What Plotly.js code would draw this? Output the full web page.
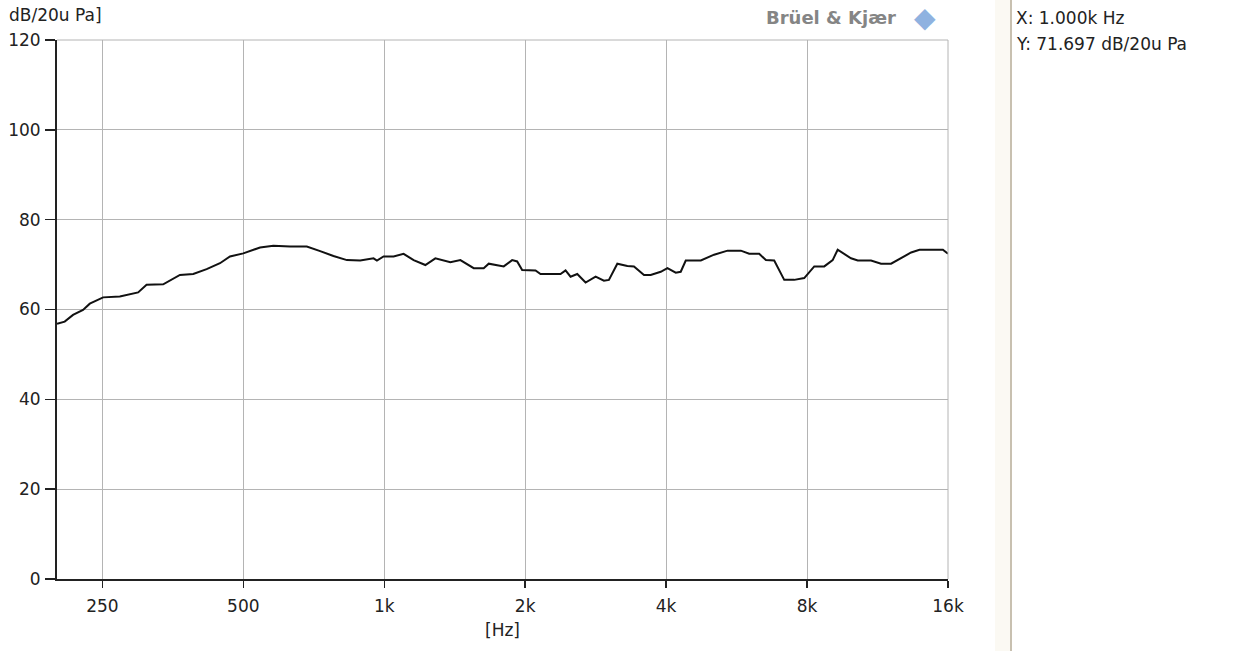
<!DOCTYPE html>
<html>
<head>
<meta charset="utf-8">
<script src="https://cdn.plot.ly/plotly-3.0.1.min.js"></script>
<style>
html,body{margin:0;padding:0;background:#fff;}
#chart{width:1255px;height:651px;}
</style>
</head>
<body>
<div id="chart"></div>
<script>
// Frequency (Hz) and level (dB re 20 µPa)
const freqHz = [200, 207.7, 216.4, 227.3, 235.0, 250.9, 272.4, 298.1, 310.7, 337.2, 366.1, 390.9, 417.5, 445.8, 468.3, 500,
  542.9, 579.6, 629.3, 683.3, 729.7, 779, 832.2, 888.4, 948.7, 964.7, 996.6, 1047, 1099.8, 1155.5, 1224, 1285.7,
  1384.2, 1454.1, 1552.7, 1631, 1671.7, 1799.8, 1876, 1922.7, 1970.6, 2104.3, 2156.7, 2379.7, 2439.1, 2499.9,
  2583.7, 2691.7, 2827.7, 2945.7, 3019, 3146.5, 3305.5, 3415, 3587.4, 3707.8, 3895, 4025.8, 4194, 4298, 4405.6,
  4744.4, 5064, 5410, 5776.8, 6017.8, 6321.6, 6533.6, 6806, 7149.8, 7510.6, 7889.8, 8288, 8706.4, 9073.8, 9300,
  9930.8, 10264, 10958, 11511.6, 12093, 12600, 13348, 13906, 15604, 16000];
const levelDb = [56.8, 57.3, 58.8, 59.9, 61.3, 62.7, 62.9, 63.8, 65.5, 65.6, 67.7, 67.9, 69.0, 70.3, 71.8, 72.5,
  73.8, 74.2, 74.0, 74.0, 73.0, 71.9, 71.0, 70.9, 71.4, 70.9, 71.8, 71.8, 72.4, 71.0, 69.9, 71.4,
  70.5, 71.0, 69.2, 69.2, 70.2, 69.6, 71.0, 70.7, 68.8, 68.7, 67.9, 67.9, 68.7, 67.3,
  67.9, 66.0, 67.3, 66.4, 66.6, 70.2, 69.7, 69.6, 67.7, 67.7, 68.4, 69.2, 68.2, 68.4, 70.9,
  70.9, 72.2, 73.1, 73.1, 72.4, 72.4, 71.0, 70.9, 66.6, 66.6, 67.0, 69.6, 69.6, 71.0, 73.3,
  71.4, 70.9, 70.9, 70.2, 70.2, 71.2, 72.7, 73.3, 73.3, 72.4];

const xTickVals = [250, 500, 1000, 2000, 4000, 8000, 16000];
const xTickText = ['250', '500', '1k', '2k', '4k', '8k', '16k'];
const yTickVals = [0, 20, 40, 60, 80, 100, 120];

const FONT = 'DejaVu Sans, Verdana, sans-serif';
const FS = 17;

const trace = {
  x: freqHz, y: levelDb, type: 'scatter', mode: 'lines',
  line: {color: '#111111', width: 2},
  hoverinfo: 'skip', showlegend: false
};

const layout = {
  width: 1255, height: 651,
  margin: {l: 57, r: 307, t: 40, b: 72, pad: 0},
  paper_bgcolor: '#ffffff', plot_bgcolor: '#ffffff',
  font: {family: FONT, size: FS, color: '#222222'},
  xaxis: {
    type: 'log',
    range: [Math.log10(200), Math.log10(16000)],
    tickvals: xTickVals, ticktext: xTickText,
    ticks: 'outside', ticklen: 7, tickwidth: 1.5, tickcolor: '#222',
    ticklabelstandoff: 4,
    showgrid: true, gridcolor: '#b4b4b4', gridwidth: 1,
    showline: true, linecolor: '#222', linewidth: 2,
    zeroline: false, fixedrange: true,
    tickfont: {family: FONT, size: FS, color: '#222'},
    title: {text: '[Hz]', font: {family: FONT, size: FS, color: '#222'}, standoff: 9}
  },
  yaxis: {
    range: [0, 120],
    tickvals: yTickVals,
    ticks: 'outside', ticklen: 10, tickwidth: 1.5, tickcolor: '#222',
    ticklabelstandoff: 1,
    showgrid: true, gridcolor: '#b4b4b4', gridwidth: 1,
    showline: true, linecolor: '#222', linewidth: 2,
    zeroline: false, fixedrange: true,
    tickfont: {family: FONT, size: FS, color: '#222'}
  },
  shapes: [
    {type: 'line', xref: 'paper', yref: 'paper', x0: 0, x1: 1, y0: 1, y1: 1, line: {color: '#b4b4b4', width: 1}},
    {type: 'line', xref: 'paper', yref: 'paper', x0: 1, x1: 1, y0: 0, y1: 1, line: {color: '#b4b4b4', width: 1}},
    {type: 'rect', xref: 'paper', yref: 'paper', x0: (995 - 57) / 891, x1: (1010 - 57) / 891, y0: -72 / 539, y1: 611 / 539,
      fillcolor: '#fbf9f3', line: {width: 0}, layer: 'below'},
    {type: 'line', xref: 'paper', yref: 'paper', x0: (1011 - 57) / 891, x1: (1011 - 57) / 891, y0: -72 / 539, y1: 611 / 539,
      line: {color: '#c8c0b0', width: 2}}
  ],
  annotations: [
    {text: 'dB/20u Pa]', xref: 'paper', yref: 'paper', x: -50 / 891, y: 1 + 25 / 539,
      xanchor: 'left', yanchor: 'middle', showarrow: false, font: {family: FONT, size: FS, color: '#222'}},
    {text: '<b>Brüel & Kjær</b>', xref: 'paper', yref: 'paper', x: (898 - 57) / 891, y: 1 + 22 / 539,
      xanchor: 'right', yanchor: 'middle', showarrow: false, font: {family: FONT, size: 18, color: '#858585'}},
    {text: '◆', xref: 'paper', yref: 'paper', x: (925 - 57) / 891, y: 1 + 23 / 539,
      xanchor: 'center', yanchor: 'middle', showarrow: false, font: {family: FONT, size: 28, color: '#8fb2e0'}},
    {text: 'X: 1.000k Hz', xref: 'paper', yref: 'paper', x: (1014 - 57) / 891, y: 1 + 22 / 539,
      xanchor: 'left', yanchor: 'middle', showarrow: false, font: {family: FONT, size: FS, color: '#222'}},
    {text: 'Y: 71.697 dB/20u Pa', xref: 'paper', yref: 'paper', x: (1014 - 57) / 891, y: 1 - 4 / 539,
      xanchor: 'left', yanchor: 'middle', showarrow: false, font: {family: FONT, size: FS, color: '#222'}}
  ]
};

Plotly.newPlot('chart', [trace], layout, {displayModeBar: false, staticPlot: true});
</script>
</body>
</html>
